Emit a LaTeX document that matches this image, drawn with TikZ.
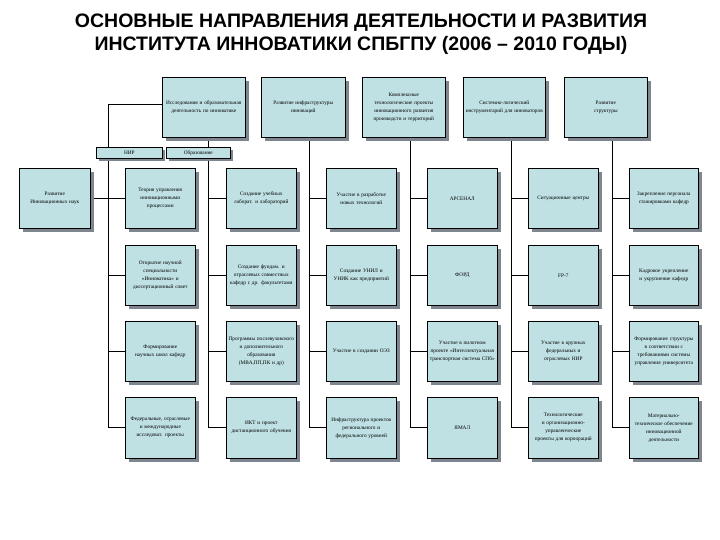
\documentclass[tikz,border=0pt]{standalone}
\usepackage{fontspec}
\setmainfont{Liberation Serif}
\newfontfamily\titlefont{Liberation Sans}
\definecolor{boxfill}{HTML}{BFE1E4}
\definecolor{shadowc}{HTML}{7E8790}
\begin{document}
\begin{tikzpicture}[x=1pt,y=-1pt,
  bx/.style={draw=black,line width=0.6pt,fill=boxfill,inner sep=1pt,align=center,
    font=\fontsize{5.3}{8}\selectfont},
  ln/.style={draw=black,line width=0.7pt}]
\useasboundingbox (0,0) rectangle (720,540);
\node[font=\titlefont\bfseries\fontsize{19.5}{23.5}\selectfont,align=center] (title) at (361,34)
 {ОСНОВНЫЕ НАПРАВЛЕНИЯ ДЕЯТЕЛЬНОСТИ И РАЗВИТИЯ\\ИНСТИТУТА ИННОВАТИКИ СПБГПУ (2006 – 2010 ГОДЫ)};
\newcommand{\mybox}[6]{%
  \fill[shadowc] (#2+4,#3+4) rectangle (#4+4,#5+4);
  \node[bx,minimum width=#4-#2,minimum height=#5-#3,text width=#4-#2-4,anchor=north west] (#1) at (#2,#3) {#6};}
\coordinate (c1t) at (108,104);
\coordinate (c1b) at (108,427);
\draw[ln] (162,104) -- (c1t) -- (c1b);
\foreach \x/\t in {208/137,309/137,410/137,511/137,612/137}
  \draw[ln] (\x,\t) -- (\x,427);
\foreach \x in {108,208,309,410,511,612}
  \foreach \y in {198,275,351,427}
    \draw[ln] (\x,\y) -- (\x+18,\y);
\draw[ln] (90,198) -- (108,198);
\mybox{t1}{162}{77}{245}{137}{Исследования и образовательная деятельность по инноватике}
\mybox{t2}{261}{77}{345}{137}{Развитие инфраструктуры инноваций}
\mybox{t3}{362}{77}{445}{137}{Комплексные технологические проекты инновационного развития производств и территорий}
\mybox{t4}{463}{77}{545}{137}{Системно-логический инструментарий для инноваторов}
\mybox{t5}{564}{77}{647}{137}{Развитие\\структуры}
\fill[shadowc] (99,150) rectangle (165,161);
\node[bx,minimum width=66,minimum height=11,anchor=north west,inner sep=0pt] (nir) at (96,147) {НИР};
\fill[shadowc] (169,150) rectangle (233,161);
\node[bx,minimum width=64,minimum height=11,anchor=north west,inner sep=0pt] (obr) at (166,147) {Образование};
\mybox{left}{19}{168}{90}{228}{Развитие Инновационных наук}
\mybox{a1}{125}{168}{195}{228}{Теория управления инновационными процессами}
\mybox{a2}{226}{168}{296}{228}{Создание учебных лаборат. и лабораторий}
\mybox{a3}{326}{168}{396}{228}{Участие в разработке новых технологий}
\mybox{a4}{427}{168}{497}{228}{АРСЕНАЛ}
\mybox{a5}{528}{168}{598}{228}{Ситуационные центры}
\mybox{a6}{629}{168}{698}{228}{Закрепление персонала стажировками кафедр}
\mybox{b1}{125}{245}{195}{305}{Открытие научной специальности «Инноватика» и диссертационный совет}
\mybox{b2}{226}{245}{296}{305}{Создание фундам. и отраслевых совместных кафедр с др. факультетами}
\mybox{b3}{326}{245}{396}{305}{Создание УНИЛ и УНИК как предприятий}
\mybox{b4}{427}{245}{497}{305}{ФОРД}
\mybox{b5}{528}{245}{598}{305}{FP-7}
\mybox{b6}{629}{245}{698}{305}{Кадровое укрепление и укрупнение кафедр}
\mybox{c1}{125}{321}{195}{381}{Формирование научных школ кафедр}
\mybox{c2}{226}{321}{296}{381}{Программы послевузовского и дополнительного образования (MBA,ПП,ПК и др)}
\mybox{c3}{326}{321}{396}{381}{Участие в создании ОЭЗ}
\mybox{c4}{427}{321}{497}{381}{Участие в пилотном проекте «Интеллектуальная транспортная система СПб»}
\mybox{c5}{528}{321}{598}{381}{Участие в крупных федеральных и отраслевых НИР}
\mybox{c6}{629}{321}{698}{381}{Формирование структуры в соответствии с требованиями системы управления университета}
\mybox{d1}{125}{397}{195}{458}{Федеральные, отраслевые и международные исследоват. проекты}
\mybox{d2}{226}{397}{296}{458}{ИКТ и проект дистанционного обучения}
\mybox{d3}{326}{397}{396}{458}{Инфраструктура проектов регионального и федерального уровней}
\mybox{d4}{427}{397}{497}{458}{ЯМАЛ}
\mybox{d5}{528}{397}{598}{458}{Технологические и организационно-управленческие проекты для корпораций}
\mybox{d6}{629}{397}{698}{458}{Материально-техническое обеспечение инновационной деятельности}
\end{tikzpicture}
\end{document}
